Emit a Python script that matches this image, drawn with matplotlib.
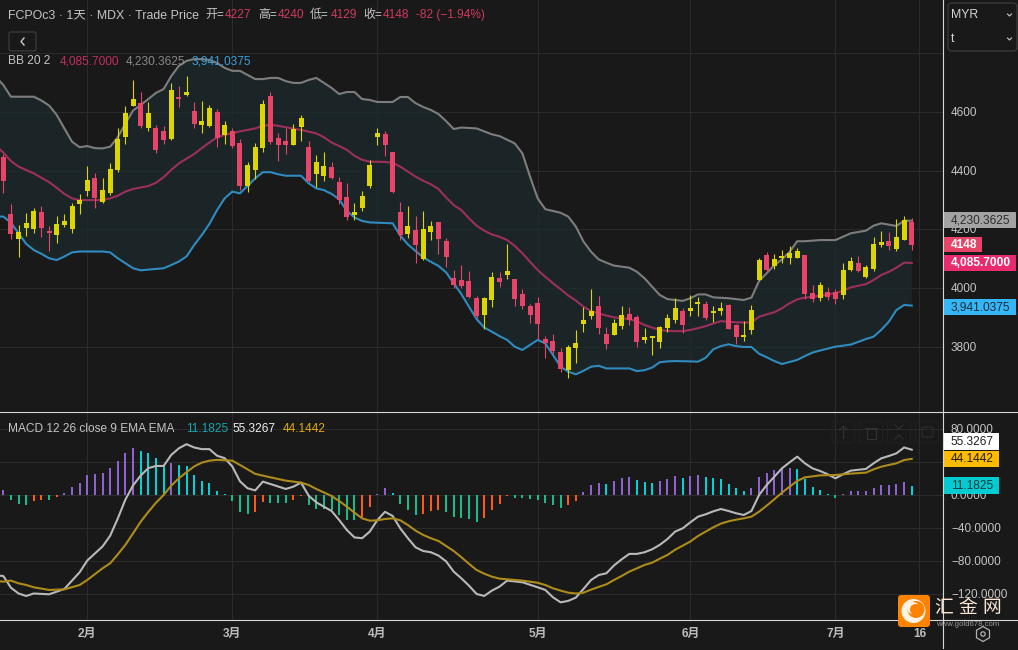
import numpy as np
import matplotlib
matplotlib.use('Agg')
import matplotlib.pyplot as plt
from matplotlib.patches import Circle, FancyBboxPatch, Rectangle, RegularPolygon

plt.rcParams['font.family'] = ['Liberation Sans', 'Noto Sans CJK SC', 'DejaVu Sans']

# daily candles
opens = [4448, 4253, 4168, 4205, 4202, 4260, 4196, 4181, 4214, 4202,
         4287, 4331, 4375, 4294, 4323, 4403, 4515, 4622, 4631, 4546,
         4544, 4536, 4508, 4648, 4658, 4603, 4557, 4552, 4600, 4522,
         4535, 4494, 4348, 4403, 4477, 4654, 4511, 4501, 4488, 4549,
         4481, 4389, 4382, 4413, 4362, 4311, 4249, 4273, 4348, 4515,
         4525, 4464, 4259, 4185, 4198, 4099, 4191, 4225, 4161, 4035,
         4028, 4025, 3967, 3909, 3960, 4035, 4045, 4031, 3980, 3939,
         3950, 3827, 3820, 3783, 3722, 3797, 3878, 3905, 3939, 3844,
         3841, 3871, 3912, 3902, 3824, 3832, 3816, 3865, 3892, 3922,
         3922, 3946, 3946, 3916, 3922, 3943, 3875, 3834, 3858, 4028,
         4113, 4076, 4103, 4103, 4103, 4113, 3984, 3967, 3987, 3987,
         3977, 4062, 4086, 4038, 4066, 4147, 4161, 4134, 4164, 4227]
highs = [4457, 4287, 4215, 4255, 4272, 4280, 4213, 4246, 4253, 4289,
         4320, 4416, 4391, 4375, 4425, 4544, 4620, 4709, 4667, 4634,
         4555, 4552, 4699, 4688, 4723, 4635, 4637, 4623, 4610, 4569,
         4544, 4508, 4430, 4494, 4641, 4668, 4528, 4546, 4559, 4590,
         4501, 4454, 4464, 4430, 4380, 4358, 4290, 4331, 4437, 4545,
         4535, 4464, 4293, 4280, 4246, 4263, 4229, 4225, 4171, 4062,
         4079, 4059, 3974, 3970, 4055, 4055, 4151, 4031, 3997, 3946,
         3970, 3837, 3844, 3797, 3807, 3858, 3936, 3997, 3974, 3868,
         3895, 3939, 3936, 3909, 3865, 3837, 3871, 3912, 3967, 3933,
         3977, 3970, 3957, 3940, 3953, 3946, 3878, 3888, 3943, 4103,
         4123, 4117, 4130, 4144, 4137, 4113, 4011, 4021, 4004, 3997,
         4086, 4106, 4110, 4079, 4174, 4195, 4191, 4236, 4246, 4240]
lows = [4325, 4168, 4108, 4179, 4187, 4173, 4128, 4155, 4210, 4188,
        4254, 4314, 4274, 4291, 4319, 4396, 4492, 4620, 4546, 4536,
        4462, 4492, 4505, 4617, 4654, 4546, 4528, 4549, 4481, 4491,
        4477, 4334, 4328, 4372, 4464, 4491, 4433, 4457, 4488, 4501,
        4362, 4345, 4365, 4372, 4287, 4232, 4232, 4263, 4341, 4488,
        4450, 4324, 4164, 4171, 4086, 4096, 4164, 4116, 4072, 4001,
        4001, 3967, 3899, 3861, 3936, 4004, 4031, 3939, 3929, 3882,
        3827, 3763, 3776, 3715, 3694, 3745, 3851, 3895, 3844, 3793,
        3841, 3861, 3875, 3800, 3814, 3773, 3797, 3851, 3882, 3848,
        3906, 3906, 3892, 3885, 3909, 3861, 3810, 3820, 3844, 4028,
        4055, 4066, 4086, 4083, 4103, 3963, 3953, 3957, 3960, 3946,
        3963, 4059, 4055, 4035, 4059, 4140, 4130, 4127, 4164, 4129]
closes = [4366, 4185, 4192, 4222, 4263, 4205, 4189, 4219, 4229, 4280,
          4300, 4369, 4307, 4334, 4406, 4508, 4595, 4644, 4552, 4597,
          4471, 4505, 4675, 4644, 4668, 4559, 4569, 4614, 4511, 4556,
          4484, 4348, 4420, 4481, 4627, 4498, 4488, 4488, 4542, 4580,
          4365, 4430, 4416, 4375, 4300, 4242, 4259, 4314, 4419, 4528,
          4488, 4328, 4181, 4212, 4147, 4202, 4212, 4168, 4106, 4011,
          4008, 3970, 3905, 3967, 4038, 4021, 4059, 3963, 3939, 3909,
          3878, 3814, 3786, 3725, 3800, 3814, 3892, 3922, 3865, 3810,
          3882, 3909, 3892, 3817, 3835, 3837, 3869, 3899, 3933, 3875,
          3933, 3950, 3899, 3919, 3933, 3861, 3834, 3837, 3926, 4096,
          4062, 4100, 4110, 4120, 4127, 3980, 3963, 4011, 3970, 3963,
          4062, 4093, 4059, 4072, 4151, 4157, 4144, 4174, 4232, 4148]

# bollinger bands
bb_up_x = [-1, 0, 1, 4, 5, 6, 7, 8, 9, 10, 11, 12, 13, 14, 15, 16, 17, 18, 19, 20,
           21, 22, 23, 24, 25, 26, 27, 28, 29, 30, 31, 32, 33, 34, 35, 36, 37, 38, 39, 40,
           41, 42, 43, 44, 45, 46, 47, 48, 49, 50, 51, 52, 53, 54, 55, 56, 57, 58, 59, 60,
           62, 64, 65, 67, 68, 69, 70, 71, 73, 74, 75, 76, 77, 78, 79, 80, 82, 83, 84, 85,
           86, 87, 88, 89, 90, 91, 92, 93, 95, 97, 98, 99, 100, 101, 102, 103, 104, 105,
           107, 109, 111, 113, 114, 115, 117, 118, 119]
bb_up = [4720, 4692, 4652, 4652, 4639, 4622, 4590, 4544, 4499, 4480, 4484, 4477, 4476, 4482, 4514, 4561, 4605, 4624, 4644, 4665,
         4678, 4722, 4757, 4774, 4780, 4780, 4777, 4767, 4750, 4740, 4740, 4726, 4712, 4712, 4716, 4716, 4705, 4699, 4699, 4709,
         4716, 4699, 4682, 4661, 4668, 4668, 4644, 4641, 4634, 4634, 4634, 4651, 4651, 4630, 4617, 4607, 4593, 4569, 4542, 4547,
         4544, 4524, 4518, 4493, 4459, 4380, 4306, 4269, 4257, 4244, 4210, 4159, 4124, 4098, 4087, 4077, 4070, 4056, 4034, 4005,
         3977, 3963, 3960, 3957, 3966, 3979, 3979, 3969, 3966, 3960, 3968, 4025, 4051, 4079, 4098, 4124, 4160, 4160,
         4164, 4164, 4187, 4196, 4213, 4221, 4212, 4230, 4230]
bb_mid_x = [-1, 0, 1, 2, 4, 6, 7, 8, 9, 10, 13, 14, 15, 16, 17, 19, 20, 21, 22, 23,
            24, 25, 26, 27, 28, 29, 31, 33, 34, 35, 36, 37, 39, 41, 42, 43, 44, 45, 46, 47,
            48, 50, 51, 52, 53, 54, 55, 56, 57, 58, 59, 60, 61, 62, 63, 64, 65, 66, 67, 68,
            69, 70, 71, 72, 73, 74, 75, 76, 77, 78, 79, 80, 82, 83, 84, 85, 86, 87, 88, 89,
            90, 91, 92, 93, 94, 96, 98, 99, 100, 101, 102, 103, 104, 105, 106, 109, 110, 111,
            113, 114, 115, 116, 117, 118, 119]
bb_mid = [4485, 4462, 4433, 4414, 4391, 4361, 4342, 4321, 4306, 4300, 4300, 4306, 4315, 4329, 4338, 4348, 4359, 4378, 4403, 4425,
          4441, 4457, 4477, 4496, 4514, 4522, 4534, 4544, 4553, 4556, 4553, 4548, 4539, 4527, 4514, 4496, 4484, 4471, 4451, 4437,
          4431, 4430, 4427, 4414, 4397, 4380, 4366, 4354, 4338, 4309, 4283, 4266, 4238, 4213, 4196, 4183, 4175, 4164, 4144, 4119,
          4090, 4062, 4039, 4017, 3997, 3975, 3958, 3937, 3922, 3914, 3907, 3901, 3895, 3887, 3875, 3866, 3858, 3855, 3854, 3854,
          3858, 3864, 3871, 3880, 3888, 3884, 3883, 3903, 3911, 3918, 3932, 3949, 3962, 3968, 3971, 3983, 3992, 4003,
          4014, 4028, 4045, 4056, 4070, 4087, 4086]
bb_low_x = [-1, 0, 1, 2, 3, 4, 5, 6, 7, 8, 9, 10, 13, 14, 15, 16, 17, 18, 21, 22,
            23, 24, 25, 26, 27, 28, 29, 30, 31, 32, 33, 34, 35, 36, 37, 39, 40, 41, 42, 43,
            44, 45, 46, 47, 48, 51, 52, 53, 54, 55, 56, 57, 58, 59, 60, 61, 62, 63, 64, 65,
            66, 67, 68, 69, 70, 71, 72, 73, 74, 75, 76, 77, 78, 79, 82, 83, 84, 85, 86, 87,
            88, 90, 91, 92, 93, 94, 95, 96, 97, 98, 99, 100, 101, 102, 103, 104, 105, 106,
            107, 109, 111, 113, 114, 115, 116, 117, 118, 119]
bb_low = [4244, 4244, 4223, 4187, 4151, 4130, 4117, 4102, 4096, 4108, 4122, 4125, 4125, 4122, 4102, 4085, 4068, 4061, 4068, 4079,
          4091, 4108, 4147, 4181, 4219, 4266, 4306, 4329, 4323, 4348, 4374, 4395, 4395, 4388, 4383, 4383, 4357, 4340, 4334, 4321,
          4303, 4263, 4241, 4229, 4224, 4221, 4179, 4149, 4127, 4105, 4090, 4076, 4054, 4017, 3980, 3937, 3895, 3866, 3852, 3837,
          3824, 3801, 3790, 3807, 3824, 3812, 3773, 3733, 3716, 3707, 3719, 3733, 3736, 3727, 3727, 3718, 3721, 3730, 3748, 3751,
          3752, 3751, 3750, 3763, 3792, 3803, 3809, 3803, 3800, 3800, 3777, 3765, 3752, 3742, 3749, 3756, 3769, 3781,
          3788, 3801, 3808, 3827, 3835, 3858, 3886, 3926, 3943, 3941]

# macd pane
macd_x = [-1, 0, 1, 2, 3, 4, 6, 8, 10, 11, 13, 14, 15, 16, 17, 18, 19, 20, 21, 22, 23,
          24, 25, 26, 27, 28, 29, 30, 31, 32, 33, 34, 35, 37, 38, 39, 40, 41, 43, 44, 45,
          46, 47, 48, 49, 50, 51, 52, 53, 54, 55, 56, 57, 58, 59, 60, 61, 62, 63, 64, 65,
          66, 68, 70, 71, 72, 73, 74, 75, 76, 77, 78, 79, 80, 81, 82, 83, 84, 85, 86, 87,
          88, 89, 90, 91, 92, 93, 94, 95, 96, 97, 98, 99, 100, 101, 102, 103, 104, 105, 106, 107,
          108, 109, 110, 111, 113, 114, 115, 116, 117, 118, 119]
macd = [-97, -97.8, -112, -119, -122, -119, -120, -113.5, -93.3, -79, -62, -49, -28, -5, 12, 24, 33, 35.6, 35.6, 49, 57,
        62, 58, 56, 56, 48, 45, 35, 17, 8.5, 6, 16.6, 13.7, 7.7, 10.5, 15.4, -0.4, -8.5, -19, -30, -42,
        -51, -52, -44, -30, -20, -25, -40, -52, -63, -67.5, -69, -73, -80, -92.5, -100.6, -109.5, -119.6, -122, -115.5, -110.7,
        -103.4, -105.4, -111.5, -114.7, -123.6, -129.7, -128, -124, -113.5, -102.6, -96.6, -94.5, -85, -77.6, -71, -71, -69, -65.4, -60, -53,
        -44, -40, -32.7, -25.9, -23, -19.4, -16.6, -19, -21.8, -23.8, -19, 0.4, 12.5, 22.6, 32.7, 40, 46.9, 38.8, 32.7, 29.5,
        25.5, 20.6, 25.5, 29.9, 32, 38.8, 44.8, 47.7, 50.9, 58, 55.33]
signal_x = [-1, 0, 1, 2, 3, 4, 6, 8, 10, 11, 13, 14, 15, 16, 17, 18, 19, 20, 21, 22, 23,
            24, 25, 26, 27, 28, 30, 31, 32, 33, 35, 37, 39, 40, 41, 43, 44, 45, 46, 47, 48,
            49, 50, 51, 52, 53, 54, 55, 56, 57, 58, 59, 60, 61, 62, 63, 64, 65, 66, 68, 70,
            71, 72, 73, 74, 75, 76, 77, 78, 79, 80, 81, 82, 83, 84, 85, 86, 87, 88, 89, 90,
            91, 92, 93, 94, 95, 96, 97, 98, 99, 100, 101, 102, 103, 104, 105, 106, 107, 109, 111, 113,
            114, 115, 116, 117, 118, 119]
signal = [-104, -104.6, -103.4, -106.7, -108.7, -111.5, -114.7, -114, -108.7, -102.6, -88.5, -82.4, -71.5, -60, -46, -32, -20, -9, 0.4, 11.7, 20.6,
          28, 35, 39.6, 42, 43, 42, 36.8, 31.5, 26, 21.8, 17.8, 15.4, 12.5, 7.7, -0.8, -6.9, -13.7, -21, -27.9, -30.7,
          -30.3, -28.7, -27.9, -30.3, -36, -42.8, -48, -52, -55.3, -61.4, -67.5, -75, -83, -90.5, -95, -98.6, -101, -101.8, -103.4, -106,
          -108.7, -112.7, -115.5, -118, -119, -118, -114.3, -111, -107.9, -102.6, -97.8, -92.5, -88.5, -84.4, -81.6, -76.8, -72.3, -66, -61, -56,
          -49.3, -44, -38.8, -34.3, -31.5, -29.5, -27.9, -25.9, -19.8, -12.5, -4.8, 3.2, 10.5, 17.4, 21.8, 23, 24.2, 24.6, 26.3, 27.5,
          31.5, 34.7, 36.8, 38.8, 42.8, 44.14]
hist = [6.5, -5.3, -10.5, -11.7, -6.9, -5.3, -5.3, -2, 2.8, 10,
        15, 24.6, 25.9, 27, 33, 41.6, 51, 57, 53.7, 51,
        45, 35.5, 39, 36.8, 35.5, 24.6, 17, 15, 5, 1.6,
        -6.9, -20, -22.6, -20, -8, -9.3, -9.3, -9.3, -5.7, -0.8,
        -11.7, -16.6, -16.6, -17.8, -23.8, -30, -30, -26, -14, 1.6,
        9, 2.8, -10.5, -17.8, -23.8, -22.6, -19, -17.8, -20, -26,
        -27.5, -28.7, -32, -27.5, -17.8, -10.5, -1.2, -2.8, -2.8, -4.4,
        -5.7, -8.9, -11.7, -15, -11.7, -6.9, 4, 12.5, 15, 13.7,
        17.4, 21, 22, 18.6, 16, 15, 17.4, 19.8, 23.4, 21,
        23.4, 24.6, 22, 21, 19.8, 13.7, 8.9, 5, 8.9, 22,
        27, 30.7, 32, 33, 32, 19.8, 10, 6.5, 1.6, -3.2,
        1.6, 5.3, 5.3, 5.3, 8.9, 12.5, 12.5, 13.7, 16, 11.18]

price_ticks = [3800, 4000, 4200, 4400, 4600, 4800]
price_labels = ['3800', '4000', '4200', '4400', '4600']
macd_ticks = [-120, -80, -40, 0, 40, 80]
macd_labels = ['80.0000', '\u221240.0000', '\u221280.0000', '\u2212120.0000']
month_pos = [11, 30, 49, 70, 90, 109, 120]
month_labels = ['2月', '3月', '4月', '5月', '6月', '7月', '16']

BG = '#191919'
GRID = '#2b2b2b'
UP = '#dcd500'
DOWN = '#e8446a'
TXT = '#c4c4c4'
W, H = 1018, 650
RIGHT = 943.5  # price axis line
STEP = 7.634   # px per candle
X0 = 3.3       # px of first candle
xlim = (-X0 / STEP, (RIGHT - X0) / STEP)

fig = plt.figure(figsize=(W / 100, H / 100), dpi=100, facecolor=BG)


def pane(top, bottom):
    ax = fig.add_axes([0, 1 - bottom / H, RIGHT / W, (bottom - top) / H], facecolor=BG)
    ax.set_xlim(*xlim)
    for s in ax.spines.values():
        s.set_visible(False)
    ax.set_xticks(month_pos)
    ax.tick_params(length=0, labelleft=False, labelbottom=False)
    ax.grid(True, color=GRID, lw=0.72)
    ax.set_axisbelow(True)
    return ax


# price pane
ax1 = pane(0, 412)
ax1.set_ylim(3578.7, 4981.2)
ax1.set_yticks(price_ticks)
ax1.fill(list(bb_up_x) + list(bb_low_x[::-1]), list(bb_up) + list(bb_low[::-1]),
         color='#1c2a2d', lw=0, alpha=0.75, zorder=1)
ax1.plot(bb_up_x, bb_up, color='#7d7d7d', lw=1.5, zorder=2)
ax1.plot(bb_mid_x, bb_mid, color='#9c2f5c', lw=1.5, zorder=2)
ax1.plot(bb_low_x, bb_low, color='#2f8bc0', lw=1.5, zorder=2)

for i in range(len(opens)):
    col = UP if closes[i] >= opens[i] else DOWN
    ax1.vlines(i, lows[i], highs[i], color=col, lw=0.8, zorder=3)
    bottom = min(opens[i], closes[i])
    height = max(abs(closes[i] - opens[i]), 7)
    ax1.bar(i, height, bottom=bottom, width=5 / STEP, color=col, lw=0, zorder=4)

# macd pane
ax2 = pane(412.5, 620.3)
ax2.set_ylim(-151.5, 100.4)
ax2.set_yticks(macd_ticks)

hist_colors = []
prev = -1e9
for v in hist:
    if v >= 0:
        hist_colors.append('#8e62d2' if v >= prev else '#00d2da')
    else:
        hist_colors.append('#ff5a14' if v > prev else '#14bd8a')
    prev = v
ax2.bar(range(len(hist)), hist, width=2 / STEP, color=hist_colors, lw=0, zorder=2)
ax2.plot(macd_x, macd, color='#b9b9b9', lw=1.5, zorder=3)
ax2.plot(signal_x, signal, color='#ad8c1c', lw=1.5, zorder=3)

# everything around the panes is placed in pixels
ov = fig.add_axes([0, 0, 1, 1], facecolor='none')
ov.set_xlim(0, W)
ov.set_ylim(H, 0)
ov.axis('off')

ov.plot([0, W], [412, 412], color='#d8d8d8', lw=0.8)
ov.plot([0, W], [620.3, 620.3], color='#d8d8d8', lw=0.8)
ov.plot([RIGHT, RIGHT], [0, 648], color='#d8d8d8', lw=0.8)


def label(x, y, s, color=TXT, size=8.6, **kw):
    kw.setdefault('va', 'center')
    ov.text(x, y, s, color=color, fontsize=size, **kw)


# header rows
RED = '#cf3a5c'
label(8, 15, 'FCPOc3 · 1天 · MDX · Trade Price', size=8.9)
for x, s, col in [(205, '开=', TXT), (225, '4227', RED), (258, '高=', TXT), (278, '4240', RED),
                  (310, '低=', TXT), (331, '4129', RED), (363, '收=', TXT), (383, '4148', RED),
                  (416, '-82 (\u22121.94%)', RED)]:
    label(x, 15, s, color=col)
ov.add_patch(FancyBboxPatch((9, 32), 27, 19, boxstyle='round,pad=0,rounding_size=2',
                            fc=BG, ec='#404040', lw=0.8))
ov.plot([24, 21, 24], [38, 41.5, 45], color='#c8c8c8', lw=1)
label(8, 61, 'BB 20 2')
label(60, 61, '4,085.7000', color='#c22e62')
label(126, 61, '4,230.3625', color='#8a8a8a')
label(192, 61, '3,941.0375', color='#3aa0dc')
label(8, 429, 'MACD 12 26 close 9 EMA EMA')
label(186, 429, '11.1825', color='#14a5ae')
label(233, 429, '55.3267', color='#f0f0f0')
label(283, 429, '44.1442', color='#e0aa10')

# price axis labels
for t, s in zip([3800, 4000, 4200, 4400, 4600], price_labels):
    y = 348 - (t - 3800) / 3.404
    label(951, y, s, size=8.5)
for t, s in zip([80, -40, -80, -120], macd_labels):
    y = 496 - t * 0.825
    label(951, y, s, size=8.5)
label(951, 496, '0.0000', size=8.5)


def tag(top, bottom, right, s, bg, fg, bold=False):
    ov.add_patch(Rectangle((944, top), right - 944, bottom - top, fc=bg, lw=0, zorder=5))
    label(951, (top + bottom) / 2 + 0.5, s, color=fg, size=8.6, zorder=6,
          fontweight='bold' if bold else 'normal')


tag(212, 228, 1016, '4,230.3625', '#a3a3a3', '#2c2c2c')
tag(237, 252, 982, '4148', '#e8446a', '#ffffff', True)
tag(255, 271, 1016, '4,085.7000', '#e82a6e', '#ffffff', True)
tag(299, 315, 1016, '3,941.0375', '#35b6f6', '#1c2c38')
tag(433, 450, 999, '55.3267', '#ffffff', '#202020')
tag(451, 467, 999, '44.1442', '#ffbb00', '#202020')
tag(477, 494, 999, '11.1825', '#00ccd2', '#14383c')

# currency selectors
ov.add_patch(FancyBboxPatch((948, 3), 69, 48, boxstyle='round,pad=0,rounding_size=4',
                            fc=BG, ec='#404040', lw=0.8))
label(951, 15, 'MYR', color='#d4d4d4', size=8.8)
label(951, 39, 't', color='#d4d4d4', size=8.8)
for y in (15, 39):
    ov.plot([1007.5, 1009.5, 1011.5], [y - 1, y + 1, y - 1], color='#c8c8c8', lw=0.8)

# faint toolbar
for x in (832, 859.5, 887.5, 915.5):
    ov.add_patch(FancyBboxPatch((x, 421), 23, 22, boxstyle='round,pad=0,rounding_size=3',
                                fc='none', ec='#212121', lw=0.7))
ICON = '#333333'
ov.plot([843.5, 843.5], [426, 438], color=ICON, lw=0.7)
ov.plot([839.5, 843.5, 847.5], [430, 426, 430], color=ICON, lw=0.7)
ov.add_patch(Rectangle((867, 429), 9, 10, fc='none', ec=ICON, lw=0.7))
ov.plot([865.5, 877.5], [427.5, 427.5], color=ICON, lw=0.7)
ov.plot([895, 899, 903], [425, 429, 425], color=ICON, lw=0.7)
ov.plot([895, 899, 903], [439, 435, 439], color=ICON, lw=0.7)
ov.add_patch(FancyBboxPatch((922, 427), 11, 10, boxstyle='round,pad=0,rounding_size=2',
                            fc='none', ec=ICON, lw=0.7))

# time axis
for p, s in zip(month_pos, month_labels):
    label(X0 + STEP * p, 634, s, color='#bcbcbc', size=8.6, ha='center', fontweight='bold')
ov.add_patch(RegularPolygon((983, 634), 6, radius=7.5, fc='none', ec='#b0b0b0', lw=0.9))
ov.add_patch(Circle((983, 634), 2.2, fc='none', ec='#b0b0b0', lw=0.9))

# watermark
ov.add_patch(FancyBboxPatch((898, 595), 32, 32, boxstyle='round,pad=0,rounding_size=3',
                            fc='#ff8200', lw=0, zorder=7))
ov.add_patch(Circle((913.5, 611), 12, fc='#fff3e6', lw=0, zorder=8))
ov.add_patch(Circle((916, 609.5), 8.5, fc='#ff8200', lw=0, zorder=9))
ov.add_patch(Circle((913, 608), 6, fc='#fff3e6', lw=0, zorder=10))
ov.add_patch(Circle((915.5, 609.5), 5.5, fc='#ff8200', lw=0, zorder=11))
label(968.5, 609, '汇 金 网', color='#f8e6d6', size=13.5, ha='center', zorder=8)
label(968, 624, 'www.gold678.com', color='#9a9a9a', size=5.6, ha='center', zorder=8)

fig.savefig('out.png', dpi=100, facecolor=BG)
